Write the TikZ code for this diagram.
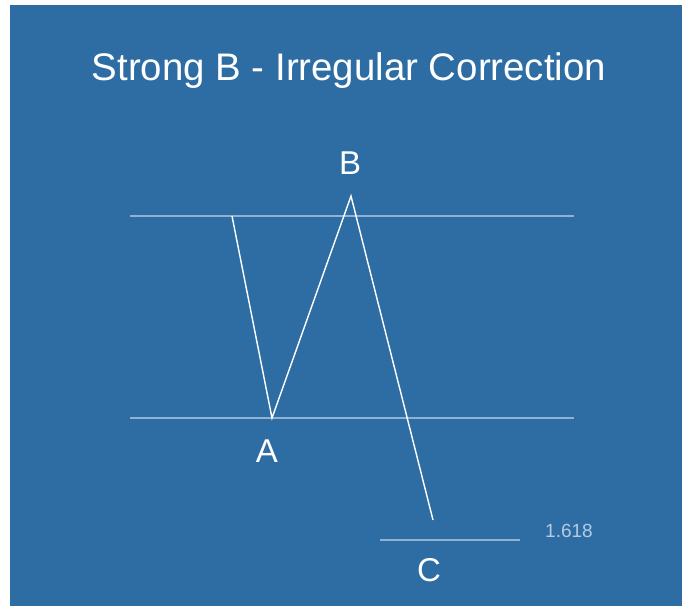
\documentclass[tikz,border=0pt]{standalone}
\usepackage{fontspec}
\setmainfont{Liberation Sans}
\definecolor{panel}{HTML}{2E6DA4}
\definecolor{guide}{HTML}{8FB1D3}
\definecolor{ratio}{HTML}{B5CBE2}
\begin{document}
\begin{tikzpicture}[x=1pt,y=-1pt,
  wave/.style={draw=white,line width=1.4pt,line join=miter},
  guideline/.style={draw=guide,line width=1.4pt},
  lbl/.style={text=white,font=\fontsize{33}{36}\selectfont,inner sep=0pt},
  ratiolbl/.style={text=ratio,font=\fontsize{19}{21}\selectfont,inner sep=0pt}]
\useasboundingbox (0,0) rectangle (682,606);
\fill[white] (0,0) rectangle (682,606);
\fill[panel] (10,5) rectangle (682,606);
\node[lbl,font=\fontsize{38.4}{42}\selectfont] (title) at (349,71) {Strong B - Irregular Correction};
\draw[guideline] (130,216) -- (574,216);
\draw[guideline] (130,418) -- (574,418);
\draw[guideline] (380,540) -- (520,540);
\coordinate (s) at (232,216);
\coordinate (a) at (272,418);
\coordinate (b) at (351,196);
\coordinate (c) at (433,520);
\draw[wave] (s) -- (a) -- (b) -- (c);
\node[lbl] (la) at (267,451) {A};
\node[lbl] (lb) at (350,163) {B};
\node[lbl] (lc) at (429,570) {C};
\node[ratiolbl] (r) at (569,531) {1.618};
\end{tikzpicture}
\end{document}
